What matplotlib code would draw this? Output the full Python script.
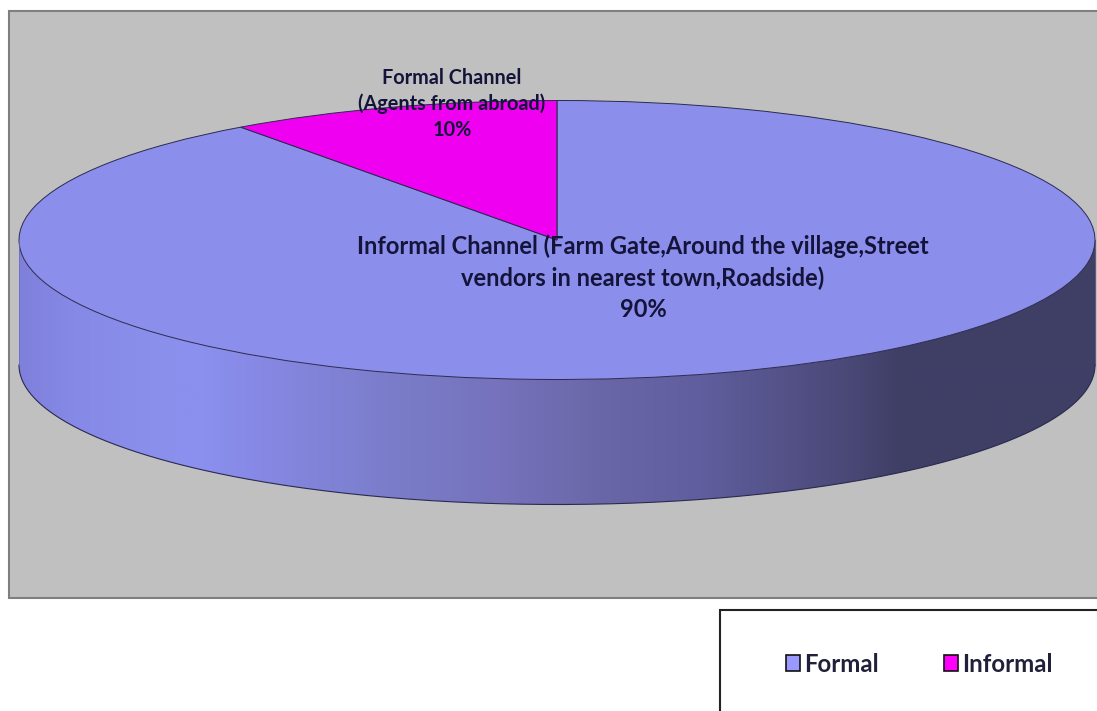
import matplotlib
matplotlib.use("Agg")
import matplotlib.pyplot as plt
import numpy as np
from matplotlib.colors import LinearSegmentedColormap
from matplotlib.patches import Patch, Polygon, Rectangle

W, H = 1097, 711

categories = ["Formal", "Informal"]
shares = [90, 10]
slice_labels = [
    "Informal Channel (Farm Gate,Around the village,Street\nvendors in nearest town,Roadside)\n90%",
    "Formal Channel\n(Agents from abroad)\n10%",
]
face_colors = ["#8b8eea", "#f000f0"]
legend_colors = ["#9999ff", "#ff00ff"]

# pie geometry in pixels
cx, cy = 557, 240
rx, ry = 538, 139.5
depth = 125 / ry

plt.rcParams["font.family"] = ["Lato", "DejaVu Sans"]
plt.rcParams["font.weight"] = "bold"

fig = plt.figure(figsize=(W / 100, H / 100), dpi=100, facecolor="white")

# grey plot area, runs off the right edge
fig.add_artist(Rectangle((8.5 / W, 1 - 597.5 / H), 1.1, 587 / H, transform=fig.transFigure,
                         facecolor="#c0c0c0", edgecolor="#7f7f7f", linewidth=1.5, zorder=-2))

# whole-figure axes, unit circle squashed into the ellipse
ax = fig.add_axes([0, 0, 1, 1])
ax.patch.set_alpha(0)

wedges, _ = ax.pie(shares, colors=face_colors, startangle=90, counterclock=False, radius=1,
                   wedgeprops=dict(edgecolor="#2a2a50", linewidth=0.7))
ax.set_aspect("auto")

# side wall: gradient clipped to the band under the front rim
t = np.linspace(np.pi, 2 * np.pi, 300)
rim_x, rim_y = np.cos(t), np.sin(t)
wall = np.column_stack([np.r_[rim_x, rim_x[::-1]], np.r_[rim_y, rim_y[::-1] - depth]])
wall_patch = Polygon(wall, closed=True, facecolor="none", edgecolor="none", transform=ax.transData)
ax.add_patch(wall_patch)

wall_cmap = LinearSegmentedColormap.from_list("wall", [
    (0.00, "#7f80dc"), (0.05, "#8689e6"), (0.12, "#8b8fec"), (0.17, "#8b8fee"),
    (0.224, "#8688e4"), (0.354, "#7a7cc8"), (0.447, "#7672bc"), (0.54, "#6a67a8"),
    (0.633, "#605e9e"), (0.705, "#55538a"), (0.772, "#4a4876"), (0.82, "#3f3f66"),
    (1.00, "#3f3f66"),
])
img = ax.imshow(np.linspace(0, 1, 512).reshape(1, -1), cmap=wall_cmap, aspect="auto",
                extent=(-1, 1, -1 - depth, 0), zorder=0.5)
img.set_clip_path(wall_patch)
ax.set_xlim(-cx / rx, (W - cx) / rx)
ax.set_ylim((cy - H) / ry, cy / ry)

ax.plot(rim_x, rim_y - depth, color="#2a2a50", linewidth=0.8, zorder=1.5)
ax.plot([-1, -1], [0, -depth], color="#6a6ac0", linewidth=0.5, zorder=1.5)
ax.plot([1, 1], [0, -depth], color="#33335a", linewidth=0.5, zorder=1.5)

for (x, y), label, size, gap in zip([(643, 278), (452, 104)], slice_labels, [17, 14.3], [1.43, 1.34]):
    fig.text(x / W, 1 - y / H, label, ha="center", va="center", fontsize=size,
             color="#14143a", linespacing=gap)

# legend box hangs off the corner of the figure
fig.add_artist(Rectangle((719.5 / W, -0.05), 0.5, 1 - 610.5 / H + 0.05, transform=fig.transFigure,
                         facecolor="white", edgecolor="#222222", linewidth=1.5, zorder=-1))
handles = [Patch(facecolor=c, edgecolor="#111111", linewidth=1.2) for c in legend_colors]
fig.legend(handles, categories, ncol=2, frameon=False, loc="center left",
           bbox_to_anchor=(786 / W, 1 - 664 / H), fontsize=17.3, borderpad=0, borderaxespad=0,
           handlelength=0.6, handleheight=0.6, handletextpad=0.15, columnspacing=2.72,
           labelcolor="#20203a")

fig.savefig("out.png", dpi=100, facecolor="white")
